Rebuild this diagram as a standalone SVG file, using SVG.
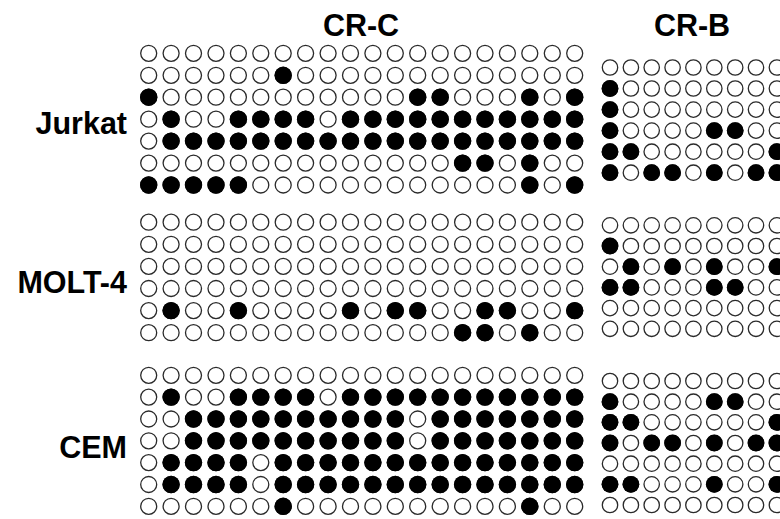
<svg xmlns="http://www.w3.org/2000/svg" xmlns:xlink="http://www.w3.org/1999/xlink" width="780" height="519" viewBox="0 0 780 519">
<style>
.lbl{font-family:"Liberation Sans",Arial,Helvetica,sans-serif;font-weight:bold;font-size:30.5px;fill:#000}
.oc{fill:#fff;stroke:#2a2a2a;stroke-width:1.3}
.fc{fill:#000;stroke:none}
</style>
<defs>
<circle id="o" class="oc" r="8"/>
<circle id="f" class="fc" r="8.7"/>
<circle id="ob" class="oc" r="7.7"/>
<circle id="fb" class="fc" r="8.4"/>
<g id="rc"><use href="#o" x="0"/><use href="#o" x="22.4"/><use href="#o" x="44.8"/><use href="#o" x="67.3"/><use href="#o" x="89.7"/><use href="#o" x="112.1"/><use href="#o" x="134.5"/><use href="#o" x="156.9"/><use href="#o" x="179.4"/><use href="#o" x="201.8"/><use href="#o" x="224.2"/><use href="#o" x="246.6"/><use href="#o" x="269"/><use href="#o" x="291.5"/><use href="#o" x="313.9"/><use href="#o" x="336.3"/><use href="#o" x="358.7"/><use href="#o" x="381.1"/><use href="#o" x="403.6"/><use href="#o" x="426"/></g>
<g id="rb"><use href="#ob" x="0"/><use href="#ob" x="20.9"/><use href="#ob" x="41.7"/><use href="#ob" x="62.6"/><use href="#ob" x="83.4"/><use href="#ob" x="104.3"/><use href="#ob" x="125.2"/><use href="#ob" x="146"/><use href="#ob" x="166.9"/></g>
</defs>
<rect width="780" height="519" fill="#fff"/>

<g id="titles">
<text class="lbl" x="361" y="36" text-anchor="middle">CR-C</text>
<text class="lbl" x="692" y="35.5" text-anchor="middle">CR-B</text>
</g>
<g id="row-labels">
<text class="lbl" x="127" y="133.5" text-anchor="end">Jurkat</text>
<text class="lbl" x="127" y="293" text-anchor="end">MOLT-4</text>
<text class="lbl" x="127" y="458" text-anchor="end">CEM</text>
</g>

<g id="jurkat-crc" transform="translate(148.7,53.3)">
<g><use href="#rc"/></g>
<g transform="translate(0,22)"><use href="#rc"/><use href="#f" x="134.5"/></g>
<g transform="translate(0,43.9)"><use href="#rc"/><use href="#f" x="0"/><use href="#f" x="269"/><use href="#f" x="291.5"/><use href="#f" x="381.1"/><use href="#f" x="426"/></g>
<g transform="translate(0,65.9)"><use href="#rc"/><use href="#f" x="22.4"/><use href="#f" x="89.7"/><use href="#f" x="112.1"/><use href="#f" x="134.5"/><use href="#f" x="156.9"/><use href="#f" x="201.8"/><use href="#f" x="224.2"/><use href="#f" x="246.6"/><use href="#f" x="269"/><use href="#f" x="291.5"/><use href="#f" x="313.9"/><use href="#f" x="336.3"/><use href="#f" x="358.7"/><use href="#f" x="381.1"/><use href="#f" x="403.6"/><use href="#f" x="426"/></g>
<g transform="translate(0,87.8)"><use href="#rc"/><use href="#f" x="22.4"/><use href="#f" x="44.8"/><use href="#f" x="67.3"/><use href="#f" x="89.7"/><use href="#f" x="112.1"/><use href="#f" x="134.5"/><use href="#f" x="156.9"/><use href="#f" x="179.4"/><use href="#f" x="201.8"/><use href="#f" x="224.2"/><use href="#f" x="246.6"/><use href="#f" x="269"/><use href="#f" x="291.5"/><use href="#f" x="313.9"/><use href="#f" x="336.3"/><use href="#f" x="358.7"/><use href="#f" x="381.1"/><use href="#f" x="403.6"/><use href="#f" x="426"/></g>
<g transform="translate(0,109.8)"><use href="#rc"/><use href="#f" x="313.9"/><use href="#f" x="336.3"/><use href="#f" x="381.1"/></g>
<g transform="translate(0,131.7)"><use href="#rc"/><use href="#f" x="0"/><use href="#f" x="22.4"/><use href="#f" x="44.8"/><use href="#f" x="67.3"/><use href="#f" x="89.7"/><use href="#f" x="381.1"/><use href="#f" x="426"/></g>
</g>

<g id="molt4-crc" transform="translate(148.7,222.2)">
<g><use href="#rc"/></g>
<g transform="translate(0,22.1)"><use href="#rc"/></g>
<g transform="translate(0,44.2)"><use href="#rc"/></g>
<g transform="translate(0,66.3)"><use href="#rc"/></g>
<g transform="translate(0,88.4)"><use href="#rc"/><use href="#f" x="22.4"/><use href="#f" x="89.7"/><use href="#f" x="201.8"/><use href="#f" x="246.6"/><use href="#f" x="269"/><use href="#f" x="336.3"/><use href="#f" x="358.7"/><use href="#f" x="426"/></g>
<g transform="translate(0,110.5)"><use href="#rc"/><use href="#f" x="313.9"/><use href="#f" x="336.3"/><use href="#f" x="381.1"/></g>
</g>

<g id="cem-crc" transform="translate(148.7,375.3)">
<g><use href="#rc"/></g>
<g transform="translate(0,21.8)"><use href="#rc"/><use href="#f" x="22.4"/><use href="#f" x="89.7"/><use href="#f" x="112.1"/><use href="#f" x="134.5"/><use href="#f" x="156.9"/><use href="#f" x="201.8"/><use href="#f" x="224.2"/><use href="#f" x="246.6"/><use href="#f" x="269"/><use href="#f" x="291.5"/><use href="#f" x="313.9"/><use href="#f" x="336.3"/><use href="#f" x="358.7"/><use href="#f" x="381.1"/><use href="#f" x="403.6"/><use href="#f" x="426"/></g>
<g transform="translate(0,43.7)"><use href="#rc"/><use href="#f" x="44.8"/><use href="#f" x="67.3"/><use href="#f" x="89.7"/><use href="#f" x="112.1"/><use href="#f" x="134.5"/><use href="#f" x="156.9"/><use href="#f" x="179.4"/><use href="#f" x="201.8"/><use href="#f" x="224.2"/><use href="#f" x="246.6"/><use href="#f" x="291.5"/><use href="#f" x="313.9"/><use href="#f" x="336.3"/><use href="#f" x="358.7"/><use href="#f" x="381.1"/><use href="#f" x="403.6"/><use href="#f" x="426"/></g>
<g transform="translate(0,65.5)"><use href="#rc"/><use href="#f" x="44.8"/><use href="#f" x="67.3"/><use href="#f" x="89.7"/><use href="#f" x="112.1"/><use href="#f" x="134.5"/><use href="#f" x="156.9"/><use href="#f" x="179.4"/><use href="#f" x="201.8"/><use href="#f" x="224.2"/><use href="#f" x="246.6"/><use href="#f" x="291.5"/><use href="#f" x="313.9"/><use href="#f" x="336.3"/><use href="#f" x="358.7"/><use href="#f" x="381.1"/><use href="#f" x="403.6"/><use href="#f" x="426"/></g>
<g transform="translate(0,87.3)"><use href="#rc"/><use href="#f" x="22.4"/><use href="#f" x="44.8"/><use href="#f" x="67.3"/><use href="#f" x="89.7"/><use href="#f" x="134.5"/><use href="#f" x="156.9"/><use href="#f" x="179.4"/><use href="#f" x="201.8"/><use href="#f" x="224.2"/><use href="#f" x="246.6"/><use href="#f" x="269"/><use href="#f" x="291.5"/><use href="#f" x="313.9"/><use href="#f" x="336.3"/><use href="#f" x="358.7"/><use href="#f" x="381.1"/><use href="#f" x="403.6"/><use href="#f" x="426"/></g>
<g transform="translate(0,109.2)"><use href="#rc"/><use href="#f" x="22.4"/><use href="#f" x="44.8"/><use href="#f" x="67.3"/><use href="#f" x="89.7"/><use href="#f" x="134.5"/><use href="#f" x="156.9"/><use href="#f" x="179.4"/><use href="#f" x="201.8"/><use href="#f" x="224.2"/><use href="#f" x="246.6"/><use href="#f" x="269"/><use href="#f" x="291.5"/><use href="#f" x="313.9"/><use href="#f" x="336.3"/><use href="#f" x="358.7"/><use href="#f" x="381.1"/><use href="#f" x="403.6"/><use href="#f" x="426"/></g>
<g transform="translate(0,131)"><use href="#rc"/><use href="#f" x="134.5"/><use href="#f" x="381.1"/></g>
</g>

<g id="jurkat-crb" transform="translate(610,67.5)">
<g><use href="#rb"/></g>
<g transform="translate(0,21)"><use href="#rb"/><use href="#fb" x="0"/></g>
<g transform="translate(0,42.1)"><use href="#rb"/><use href="#fb" x="0"/></g>
<g transform="translate(0,63.1)"><use href="#rb"/><use href="#fb" x="0"/><use href="#fb" x="104.3"/><use href="#fb" x="125.2"/></g>
<g transform="translate(0,84.2)"><use href="#rb"/><use href="#fb" x="0"/><use href="#fb" x="20.9"/><use href="#fb" x="166.9"/></g>
<g transform="translate(0,105.2)"><use href="#rb"/><use href="#fb" x="0"/><use href="#fb" x="41.7"/><use href="#fb" x="62.6"/><use href="#fb" x="104.3"/><use href="#fb" x="146"/><use href="#fb" x="166.9"/></g>
</g>

<g id="molt4-crb" transform="translate(610,225.3)">
<g><use href="#rb"/></g>
<g transform="translate(0,20.7)"><use href="#rb"/><use href="#fb" x="0"/></g>
<g transform="translate(0,41.4)"><use href="#rb"/><use href="#fb" x="20.9"/><use href="#fb" x="62.6"/><use href="#fb" x="104.3"/><use href="#fb" x="166.9"/></g>
<g transform="translate(0,62.1)"><use href="#rb"/><use href="#fb" x="0"/><use href="#fb" x="20.9"/><use href="#fb" x="104.3"/><use href="#fb" x="125.2"/></g>
<g transform="translate(0,82.8)"><use href="#rb"/></g>
<g transform="translate(0,103.5)"><use href="#rb"/></g>
</g>

<g id="cem-crb" transform="translate(610,381)">
<g><use href="#rb"/></g>
<g transform="translate(0,20.7)"><use href="#rb"/><use href="#fb" x="0"/><use href="#fb" x="104.3"/><use href="#fb" x="125.2"/></g>
<g transform="translate(0,41.3)"><use href="#rb"/><use href="#fb" x="0"/><use href="#fb" x="20.9"/><use href="#fb" x="166.9"/></g>
<g transform="translate(0,62)"><use href="#rb"/><use href="#fb" x="0"/><use href="#fb" x="41.7"/><use href="#fb" x="62.6"/><use href="#fb" x="104.3"/><use href="#fb" x="146"/><use href="#fb" x="166.9"/></g>
<g transform="translate(0,82.7)"><use href="#rb"/></g>
<g transform="translate(0,103.3)"><use href="#rb"/><use href="#fb" x="0"/><use href="#fb" x="20.9"/><use href="#fb" x="104.3"/><use href="#fb" x="166.9"/></g>
<g transform="translate(0,124)"><use href="#rb"/></g>
</g>
</svg>
